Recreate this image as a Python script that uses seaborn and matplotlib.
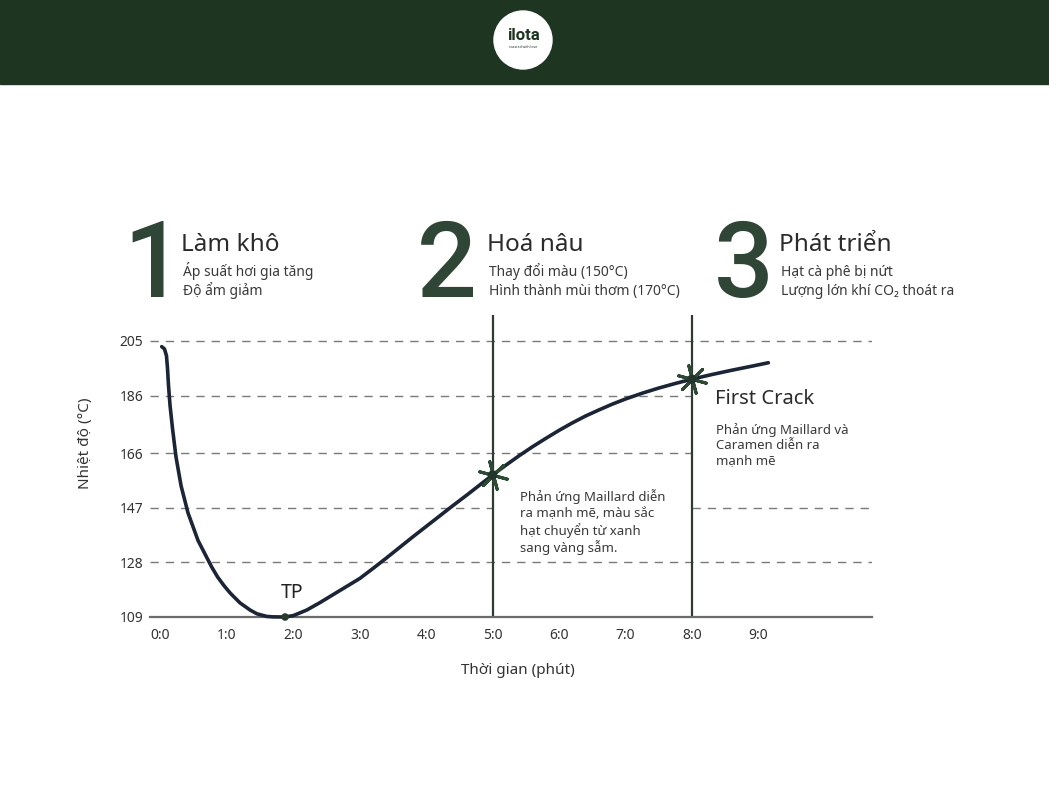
import numpy as np
import pandas as pd
import matplotlib
matplotlib.use("Agg")
import matplotlib.pyplot as plt
from matplotlib.patches import Rectangle, Circle
import seaborn as sns

# roast curve (minutes, deg C)
time_min = [0.018, 0.06, 0.09, 0.105, 0.12, 0.143, 0.18, 0.233, 0.31, 0.414, 0.565,
            0.77, 0.86, 0.956, 1.05, 1.197, 1.35, 1.453, 1.60, 1.69, 1.875,
            2.0, 2.2, 2.4, 2.6, 2.8, 3.0, 3.2, 3.4, 3.6, 3.8, 4.0, 4.2, 4.4, 4.6, 4.8,
            5.0, 5.2, 5.4, 5.6, 5.8, 6.0, 6.2, 6.4, 6.6, 6.8, 7.0, 7.25, 7.5, 7.75,
            8.0, 8.3, 8.6, 8.9, 9.15]
temp_c = [203.0, 202.2, 199.8, 195.6, 189.7, 182.7, 174.7, 164.7, 154.6, 145.2, 135.6,
          126.4, 122.9, 119.9, 117.3, 113.9, 111.4, 110.1, 109.2, 109.05, 109.0,
          109.5, 111.4, 114.0, 116.8, 119.6, 122.4, 125.9, 129.5, 133.2, 136.9, 140.5,
          144.1, 147.7, 151.2, 154.8,
          158.4, 161.8, 165.1, 168.2, 171.1, 173.9, 176.5, 178.9, 181.0, 183.0, 184.8,
          186.8, 188.6, 190.2, 191.7, 193.3, 194.8, 196.2, 197.4]

y_ticks = [109, 128, 147, 166, 186, 205]
x_ticks = list(range(10))
x_labels = [f"{i}:0" for i in x_ticks]

tp_point = (1.875, 109.0)
phase_lines = [5.0, 8.0]
phase_temps = [158.4, 191.7]

phases = [
    ("1", "Làm khô", ["Áp suất hơi gia tăng", "Độ ẩm giảm"]),
    ("2", "Hoá nâu", ["Thay đổi màu (150°C)", "Hình thành mùi thơm (170°C)"]),
    ("3", "Phát triển", ["Hạt cà phê bị nứt", "Lượng lớn khí CO₂ thoát ra"]),
]
maillard_note = ["Phản ứng Maillard diễn", "ra mạnh mẽ, màu sắc",
                 "hạt chuyển từ xanh", "sang vàng sẫm."]
crack_note = ["Phản ứng Maillard và", "Caramen diễn ra", "mạnh mẽ"]

W, H = 1049, 800
DARK = "#1e3522"
NUM_COL = "#2f4535"
LINE_COL = "#1b2535"
X0, X1 = -0.158, 10.71

sns.set_style("white")
plt.rcParams["font.family"] = ["Noto Sans", "DejaVu Sans"]

fig = plt.figure(figsize=(W / 100, H / 100), dpi=100)
fig.patch.set_facecolor("white")


def fx(px):
    return px / W


def fy(py):
    return 1 - py / H


# header band + logo
fig.patches.append(Rectangle((0, fy(84)), 1, 84 / H, transform=fig.transFigure,
                             color=DARK, zorder=0))
fig.patches.append(Circle((523 / 100, (H - 40) / 100), 0.29, transform=fig.dpi_scale_trans,
                          color="white", zorder=1))
fig.text(fx(523), fy(36), "ilota", ha="center", va="center", fontsize=12,
         fontweight="bold", family="Roboto", color=DARK, zorder=2)
fig.text(fx(523), fy(47), "roasted with love", ha="center", va="center", fontsize=2.5,
         color=DARK, zorder=2)

# phase headings
num_cx = [153, 447, 744]
title_x = [181, 487, 779]
for (num, title, lines), cx, tx in zip(phases, num_cx, title_x):
    fig.text(fx(cx), fy(297), num, ha="center", va="baseline", fontsize=76,
             fontweight="medium", family="Roboto", color=NUM_COL)
    fig.text(fx(tx), fy(251), title, ha="left", va="baseline", fontsize=17.5, color="#2b2b2b")
    for i, ln in enumerate(lines):
        fig.text(fx(tx + 2), fy(276 + i * 19), ln, ha="left", va="baseline",
                 fontsize=10, color="#3a3a3a")

# chart
ax = fig.add_axes([fx(150), fy(617), (872 - 150) / W, (617 - 315) / H])
ax.set_facecolor("none")
ax.set_xlim(X0, X1)
ax.set_ylim(109, 214)

# dashed guides, broken where the notes sit
grid_segments = {
    205: [(X0, X1)],
    186: [(X0, phase_lines[1])],
    166: [(X0, phase_lines[1])],
    147: [(X0, phase_lines[0]), (phase_lines[1], X1)],
    128: [(X0, X1)],
}
for yv, segs in grid_segments.items():
    for a, b in segs:
        ax.hlines(yv, a, b, color="#7a7a7a", lw=1, linestyles=(0, (6, 5)), zorder=1)
for xv in phase_lines:
    ax.axvline(xv, color="#2e3b31", lw=1.6, zorder=2)

df = pd.DataFrame({"time": time_min, "temp": temp_c})
sns.lineplot(data=df, x="time", y="temp", ax=ax, color=LINE_COL, lw=2.6,
             estimator=None, sort=False, zorder=3)
ax.lines[-1].set_clip_on(False)
ax.lines[-1].set_solid_joinstyle("round")

sns.scatterplot(x=[tp_point[0]], y=[tp_point[1]], ax=ax, color="#2a3a2c", s=30,
                edgecolor="none", zorder=5, clip_on=False)
sns.scatterplot(x=phase_lines, y=phase_temps, ax=ax, marker=(6, 2, 15), s=420,
                color="#2d4a35", linewidth=2.2, zorder=4)
sns.scatterplot(x=phase_lines, y=phase_temps, ax=ax, color="#22352a", s=45,
                edgecolor="none", zorder=5)

ax.set_xticks(x_ticks)
ax.set_xticklabels(x_labels, fontsize=10, color="#333333")
ax.set_yticks(y_ticks)
ax.set_yticklabels([str(v) for v in y_ticks], fontsize=10, color="#333333")
ax.tick_params(axis="x", direction="in", length=4, width=1, color="#777777", pad=8)
ax.tick_params(axis="y", length=0, pad=5)
for s in ["top", "right", "left"]:
    ax.spines[s].set_visible(False)
ax.spines["bottom"].set_color("#6b6b6b")
ax.spines["bottom"].set_linewidth(1.6)

ax.set_xlabel("Thời gian (phút)", fontsize=11, color="#333333")
ax.xaxis.set_label_coords((518 - 150) / 722, -(663 - 617) / 302)
ax.set_ylabel("Nhiệt độ (°C)", fontsize=11, color="#333333")
ax.yaxis.set_label_coords((93 - 150) / 722, (617 - 443) / 302)

# annotations
fig.text(fx(281), fy(598), "TP", ha="left", va="baseline", fontsize=14, color="#222222")
fig.text(fx(715), fy(399), "First Crack", ha="left", va="center", fontsize=14.5, color="#2b2b2b")
for i, ln in enumerate(crack_note):
    fig.text(fx(716), fy(430 + i * 15.5), ln, ha="left", va="center", fontsize=9.5,
             color="#3a3a3a")
for i, ln in enumerate(maillard_note):
    fig.text(fx(520), fy(497 + i * 16.7), ln, ha="left", va="center", fontsize=9.5,
             color="#3a3a3a")

fig.savefig("out.png", dpi=100)
